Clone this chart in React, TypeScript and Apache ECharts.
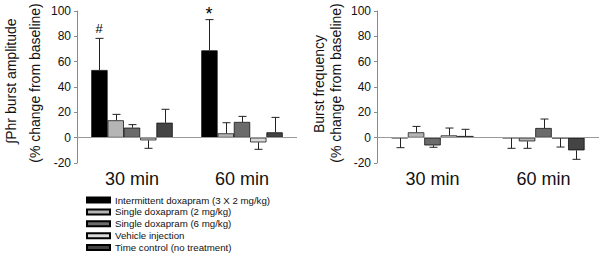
import React, { useEffect, useRef } from "react";
import * as echarts from "echarts";

const categories = ["30 min", "60 min"];
const seriesNames = [
  "Intermittent doxapram (3 X 2 mg/kg)",
  "Single doxapram (2 mg/kg)",
  "Single doxapram (6 mg/kg)",
  "Vehicle injection",
  "Time control (no treatment)",
];
const barColors = ["#000000", "#b5b5b5", "#6b6b6b", "#dadada", "#444444"];

// mean values per series, [30 min, 60 min]
const amplitudeMean = [
  [53.4, 68.9],
  [13.7, 3.4],
  [7.9, 12.4],
  [-2.1, -3.7],
  [11.8, 4.2],
];
// signed error (SEM) per series, positive = drawn upward
const amplitudeSem = [
  [25.0, 24.3],
  [4.7, 8.4],
  [2.4, 4.4],
  [-6.3, -5.5],
  [10.6, 11.8],
];
const frequencyMean = [
  [-0.3, -0.3],
  [4.2, -2.9],
  [-6.1, 7.6],
  [1.8, -0.5],
  [1.3, -10.0],
];
const frequencySem = [
  [-7.6, -8.1],
  [4.7, -5.5],
  [-1.5, 7.1],
  [5.8, -6.9],
  [5.3, -7.1],
];
// significance marks on the intermittent doxapram amplitude bars
const amplitudeMarks = ["#", "*"];

const yMin = -20;
const yMax = 100;
const yInterval = 20;

const FONT = "'Liberation Sans', Arial, Helvetica, sans-serif";
const GAP = 0.26;

function buildErrorData(mean: number[][], sem: number[][]) {
  const data: number[][] = [];
  mean.forEach((row, i) => {
    row.forEach((m, c) => {
      data.push([c, m, sem[i][c], i]);
    });
  });
  return data;
}

function makeErrorSeries(grid: number, mean: number[][], sem: number[][], marks: string[] | null) {
  return {
    type: "custom",
    name: "err" + grid,
    xAxisIndex: grid,
    yAxisIndex: grid,
    z: 5,
    silent: true,
    clip: false,
    data: buildErrorData(mean, sem),
    renderItem: (params: any, api: any) => {
      const cat = api.value(0);
      const m = api.value(1);
      const s = api.value(2);
      const i = api.value(3);
      const base = api.coord([cat, m]);
      const end = api.coord([cat, m + s]);
      const band = api.size([1, 0])[0];
      const total = band * (1 - GAP);
      const bw = total / 5;
      const x = Math.round(base[0] - total / 2 + (i + 0.5) * bw) + 0.5;
      const children: any[] = [
        {
          type: "line",
          shape: { x1: x, y1: base[1], x2: x, y2: end[1] },
          style: { stroke: "#222", lineWidth: 1 },
        },
        {
          type: "line",
          shape: { x1: x - 4, y1: end[1], x2: x + 4, y2: end[1] },
          style: { stroke: "#222", lineWidth: 1 },
        },
      ];
      if (marks && i === 0 && marks[cat]) {
        const isStar = marks[cat] === "*";
        children.push({
          type: "text",
          x: x - 0.5,
          y: end[1] - (isStar ? -3 : 3),
          style: {
            text: marks[cat],
            textAlign: "center",
            textVerticalAlign: "bottom",
            font: (isStar ? "18px " : "13px ") + FONT,
            fill: "#000",
          },
        });
      }
      return { type: "group", children };
    },
  };
}

function makeBars(grid: number, mean: number[][]) {
  return mean.map((vals, i) => ({
    type: "bar",
    name: seriesNames[i],
    xAxisIndex: grid,
    yAxisIndex: grid,
    data: vals,
    barGap: "0%",
    barCategoryGap: GAP * 100 + "%",
    itemStyle: { color: barColors[i], borderColor: "#000", borderWidth: 0.7 },
    markLine:
      i === 0
        ? {
            silent: true,
            symbol: ["none", "none"],
            label: { show: false },
            lineStyle: { color: "#9a9a9a", type: "solid", width: 1 },
            data: [{ yAxis: 0 }],
          }
        : undefined,
  }));
}

const yAxisCommon = (grid: number) => ({
  type: "value",
  gridIndex: grid,
  min: yMin,
  max: yMax,
  interval: yInterval,
  axisLine: { show: true, lineStyle: { color: "#8a8a8a", width: 1 } },
  axisTick: { show: true, length: 3, lineStyle: { color: "#8a8a8a" } },
  axisLabel: { fontSize: 12, color: "#111", margin: 6, fontFamily: FONT },
  splitLine: { show: false },
});

const xAxisCommon = (grid: number) => ({
  type: "category",
  gridIndex: grid,
  data: categories,
  axisLine: { show: false },
  axisTick: { show: false },
  axisLabel: { fontSize: 18, color: "#111", margin: 7, fontFamily: FONT },
});

export default function App() {
  const ref = useRef<HTMLDivElement>(null);
  useEffect(() => {
    if (!ref.current) return;
    const chart = echarts.init(ref.current, undefined, { renderer: "svg" });
    const nameStyle = { font: "14px " + FONT, fill: "#111", textAlign: "center", textVerticalAlign: "middle" };
    chart.setOption({
      animation: false,
      backgroundColor: "#ffffff",
      textStyle: { fontFamily: FONT },
      grid: [
        { left: 77, top: 11, width: 220, height: 152 },
        { left: 377, top: 11, width: 222, height: 152 },
      ],
      xAxis: [xAxisCommon(0), xAxisCommon(1)],
      yAxis: [yAxisCommon(0), yAxisCommon(1)],
      legend: {
        data: seriesNames,
        orient: "vertical",
        left: 86,
        top: 195,
        padding: 0,
        itemWidth: 23,
        itemHeight: 5,
        itemGap: 1.9,
        icon: "rect",
        selectedMode: false,
        textStyle: { fontSize: 9.7, color: "#111", fontFamily: FONT },
      },
      graphic: [
        { type: "text", x: 11, y: 81, rotation: Math.PI / 2, style: { ...nameStyle, text: "∫Phr burst amplitude" } },
        { type: "text", x: 35, y: 83, rotation: Math.PI / 2, style: { ...nameStyle, text: "(% change from baseline)" } },
        { type: "text", x: 319, y: 84, rotation: Math.PI / 2, style: { ...nameStyle, text: "Burst frequency" } },
        { type: "text", x: 336, y: 83, rotation: Math.PI / 2, style: { ...nameStyle, text: "(% change from baseline)" } },
      ],
      series: [
        ...makeBars(0, amplitudeMean),
        ...makeBars(1, frequencyMean),
        makeErrorSeries(0, amplitudeMean, amplitudeSem, amplitudeMarks),
        makeErrorSeries(1, frequencyMean, frequencySem, null),
      ],
    });
    return () => chart.dispose();
  }, []);
  return (
    <div
      ref={ref}
      style={{ position: "absolute", left: 0, top: 0, width: 604, height: 256, background: "#fff" }}
    />
  );
}
